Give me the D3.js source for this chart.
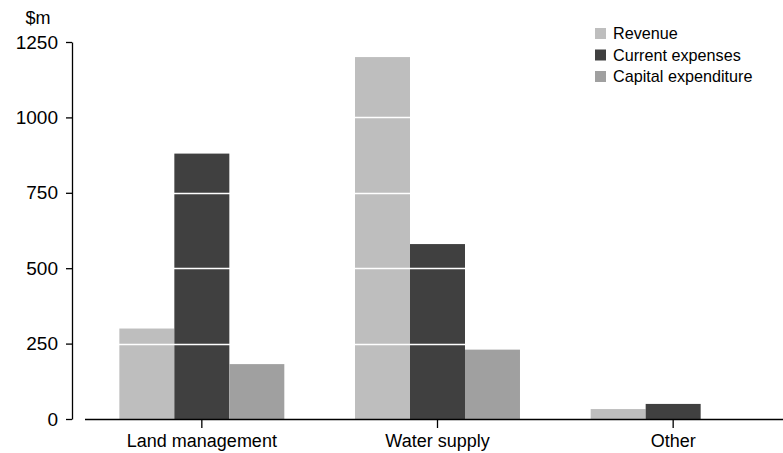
<!DOCTYPE html>
<html>
<head>
<meta charset="utf-8">
<script src="https://cdn.jsdelivr.net/npm/d3@7"></script>
<style>
  html, body { margin: 0; padding: 0; background: #fff; }
  svg { display: block; font-family: "Liberation Sans", Arial, sans-serif; }
</style>
</head>
<body>
<svg id="chart" width="783" height="453"></svg>
<script>
const categories = ["Land management", "Water supply", "Other"];
const seriesNames = ["Revenue", "Current expenses", "Capital expenditure"];
const revenue = [300, 1200, 33];
const currentExpenses = [880, 580, 50];
const capitalExpenditure = [182, 230, 0];
const yTicks = [0, 250, 500, 750, 1000, 1250];
const colors = ["#bebebe", "#404040", "#a0a0a0"];

const seriesValues = [revenue, currentExpenses, capitalExpenditure];

const svg = d3.select("#chart");
const x0 = 72, yTop = 42, yBottom = 419;

const y = d3.scaleLinear().domain([0, 1250]).range([yBottom, yTop]);
const x = d3.scaleBand().domain(categories).range([84, 791]).paddingInner(0.3).paddingOuter(0.15);
const xs = d3.scaleBand().domain(seriesNames).range([0, x.bandwidth()]);

// bars
categories.forEach((c, ci) => {
  const g = svg.append("g").attr("transform", `translate(${x(c)},0)`);
  seriesNames.forEach((s, si) => {
    const v = seriesValues[si][ci];
    if (v > 0) {
      g.append("rect")
        .attr("x", xs(s))
        .attr("width", xs.bandwidth())
        .attr("y", y(v))
        .attr("height", y(0) - y(v))
        .attr("fill", colors[si]);
    }
  });
});

// white gridlines over bars
svg.append("g").selectAll("line")
  .data(yTicks.filter(t => t > 0 && t < 1250))
  .join("line")
  .attr("x1", 85).attr("x2", 783)
  .attr("y1", d => Math.round(y(d)) + 0.5).attr("y2", d => Math.round(y(d)) + 0.5)
  .attr("stroke", "#fff").attr("stroke-width", 1.5);

// y axis
const yAxis = svg.append("g")
  .attr("transform", `translate(${x0},0)`)
  .call(d3.axisLeft(y).tickValues(yTicks).tickFormat(d3.format("d")).tickSize(6).tickSizeOuter(0).tickPadding(8));
yAxis.selectAll("text").attr("font-size", 19).attr("fill", "#000").attr("font-family", "Liberation Sans, Arial, sans-serif");
yAxis.selectAll("line, path").attr("stroke", "#000").attr("stroke-width", 1.3);

// x axis
const xAxis = svg.append("g")
  .attr("transform", `translate(0,${yBottom})`)
  .call(d3.axisBottom(x).tickSize(9).tickSizeOuter(0).tickPadding(6));
xAxis.select(".domain").remove();
xAxis.append("line").attr("x1", 85).attr("x2", 783).attr("y1", 0.5).attr("y2", 0.5)
  .attr("stroke", "#000").attr("stroke-width", 1.3);
xAxis.selectAll("line").attr("stroke", "#000").attr("stroke-width", 1.3);
xAxis.selectAll("text").attr("font-size", 18).attr("fill", "#000").attr("font-family", "Liberation Sans, Arial, sans-serif");

// unit label
svg.append("text").attr("x", 38).attr("y", 24).attr("text-anchor", "middle")
  .attr("font-size", 18).attr("fill", "#000").text("$m");

// legend
const legend = svg.append("g").attr("transform", "translate(595,28)");
seriesNames.forEach((s, i) => {
  legend.append("rect").attr("x", 0).attr("y", i * 21.5).attr("width", 11).attr("height", 11).attr("fill", colors[i]);
  legend.append("text").attr("x", 18).attr("y", i * 21.5 + 11)
    .attr("font-size", 16.2).attr("fill", "#000").text(s);
});
</script>
</body>
</html>
